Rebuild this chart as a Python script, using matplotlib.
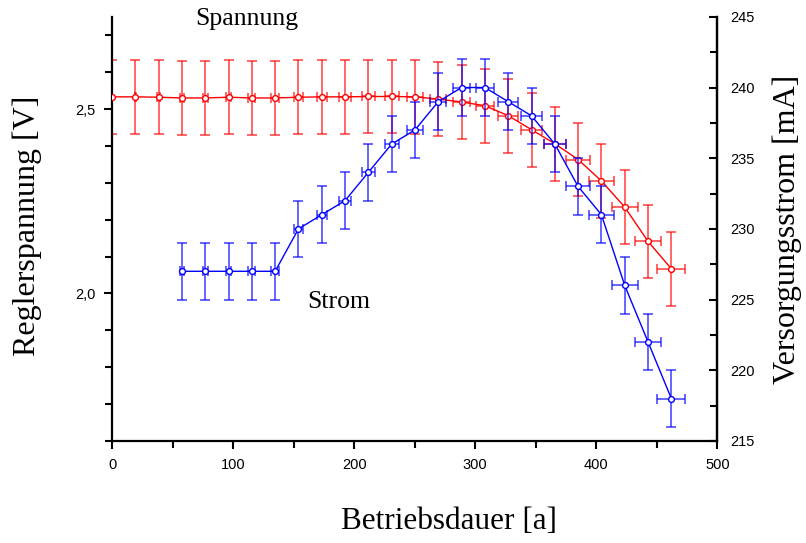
import matplotlib
matplotlib.use('Agg')
import matplotlib.pyplot as plt
from matplotlib.ticker import MultipleLocator, FuncFormatter

# Betriebsdauer [a]
zeit = [0, 19.25, 38.5, 57.75, 77, 96.25, 115.5, 134.75, 154, 173.25, 192.5,
        211.75, 231, 250.25, 269.5, 288.75, 308, 327.25, 346.5, 365.75, 385,
        404.25, 423.5, 442.75, 462]
zeit_err = [0, 0.5, 1.0, 1.4, 1.9, 2.4, 2.9, 3.4, 3.9, 4.3, 4.8, 5.3, 5.8,
            6.3, 6.7, 7.2, 7.7, 8.2, 8.7, 9.1, 9.6, 10.1, 10.6, 11.1, 11.6]

# Reglerspannung [V]
spannung = [2.533, 2.533, 2.532, 2.530, 2.530, 2.532, 2.530, 2.530, 2.532,
            2.533, 2.533, 2.534, 2.534, 2.533, 2.527, 2.519, 2.509, 2.482,
            2.444, 2.406, 2.363, 2.305, 2.234, 2.141, 2.067]
spannung_err = [0.1] * 25

# Versorgungsstrom [mA], beginnt beim 4. Messpunkt
strom = [227, 227, 227, 227, 227, 230, 231, 232, 234, 236, 237, 239, 240,
         240, 239, 238, 236, 233, 231, 226, 222, 218]
strom_err = [2] * 22
zeit_strom = zeit[3:]
zeit_strom_err = zeit_err[3:]

serif = 'Liberation Serif'
sans = 'Liberation Sans'

fig = plt.figure(figsize=(8.06, 5.43), dpi=100)
ax = fig.add_axes([0.139, 0.188, 0.751, 0.781])
ax2 = ax.twinx()

ax.errorbar(zeit, spannung, yerr=spannung_err, xerr=zeit_err, fmt='none',
            ecolor='#ff0000', elinewidth=1.2, capsize=3.5, capthick=1.2, alpha=0.7)
ax.plot(zeit, spannung, '-o', color='#ff0000', lw=1.0, ms=4.2, mew=1.0,
        mfc='white', zorder=3)

ax2.errorbar(zeit_strom, strom, yerr=strom_err, xerr=zeit_strom_err, fmt='none',
             ecolor='#0000ff', elinewidth=1.2, capsize=3.5, capthick=1.2, alpha=0.7)
ax2.plot(zeit_strom, strom, '-o', color='#0000ff', lw=1.0, ms=4.2, mew=1.0,
         mfc='white', zorder=3)

ax.set_xlim(0, 500)
ax.set_ylim(1.6, 2.75)
ax2.set_ylim(215, 245)

ax.xaxis.set_major_locator(MultipleLocator(100))
ax.xaxis.set_minor_locator(MultipleLocator(50))
ax.yaxis.set_major_locator(MultipleLocator(0.5))
ax.yaxis.set_minor_locator(MultipleLocator(0.1))
ax.yaxis.set_major_formatter(FuncFormatter(lambda v, p: f'{v:.1f}'.replace('.', ',')))
ax2.yaxis.set_major_locator(MultipleLocator(5))
ax2.yaxis.set_minor_locator(MultipleLocator(2.5))

for a in (ax, ax2):
    a.spines['top'].set_visible(False)
    for s in a.spines.values():
        s.set_linewidth(1.6)
ax2.spines['left'].set_visible(False)
ax2.spines['bottom'].set_visible(False)

ax.tick_params(axis='both', which='major', direction='out', length=6, width=1.5,
               labelsize=10.5, pad=6)
ax.tick_params(axis='both', which='minor', direction='out', length=5, width=1.5)
ax2.tick_params(axis='y', which='major', direction='in', length=6, width=1.5,
                labelsize=10.5, pad=9)
ax2.tick_params(axis='y', which='minor', direction='in', length=5, width=1.5)
for lab in ax.get_xticklabels() + ax.get_yticklabels() + ax2.get_yticklabels():
    lab.set_fontfamily(sans)

ax.text(111.6, 2.743, 'Spannung', fontsize=18.5, family=serif, ha='center', va='center')
ax.text(187.6, 1.976, 'Strom', fontsize=18.5, family=serif, ha='center', va='center')

fig.text(0.5565, 0.039, 'Betriebsdauer [a]', fontsize=22.5, family=serif,
         ha='center', va='center')
fig.text(0.034, 0.584, 'Reglerspannung [V]', fontsize=23, family=serif,
         ha='center', va='center', rotation=90)
fig.text(0.977, 0.578, 'Versorgungsstrom [mA]', fontsize=23, family=serif,
         ha='center', va='center', rotation=90)

fig.savefig('out.png', dpi=100)
